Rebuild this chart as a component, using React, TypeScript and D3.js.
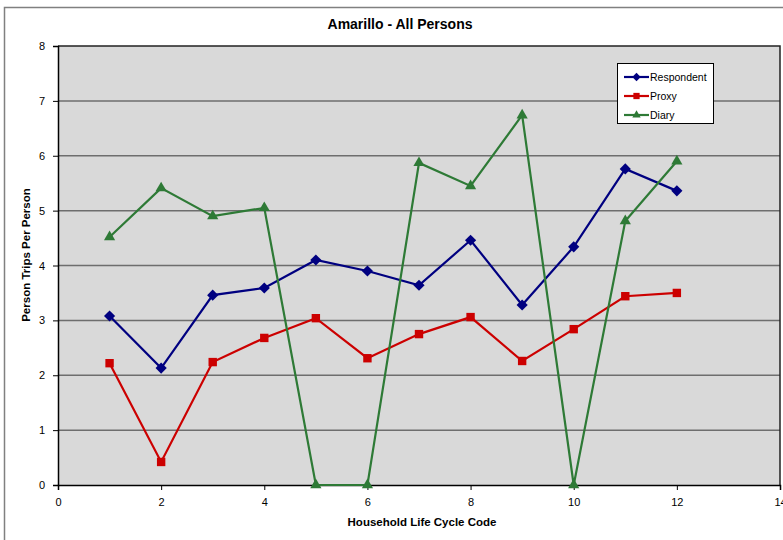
import React, { useEffect, useRef } from 'react'
import * as d3 from 'd3'

const codes = [1, 2, 3, 4, 5, 6, 7, 8, 9, 10, 11, 12]
const respondent = [3.08, 2.13, 3.46, 3.59, 4.1, 3.9, 3.64, 4.46, 3.28, 4.34, 5.76, 5.36]
const proxy = [2.22, 0.42, 2.24, 2.68, 3.04, 2.31, 2.75, 3.06, 2.26, 2.84, 3.44, 3.5]
const diary = [4.52, 5.41, 4.9, 5.05, 0, 0, 5.87, 5.45, 6.74, 0, 4.81, 5.9]
const xTicks = [0, 2, 4, 6, 8, 10, 12, 14]
const yTicks = [0, 1, 2, 3, 4, 5, 6, 7, 8]

const series = [
  { name: 'Respondent', values: respondent, color: '#000080', marker: 'diamond' },
  { name: 'Proxy', values: proxy, color: '#cc0000', marker: 'square' },
  { name: 'Diary', values: diary, color: '#2e7a36', marker: 'triangle' },
]

const W = 783
const H = 540

export default function App() {
  const svgRef = useRef<SVGSVGElement>(null)

  useEffect(() => {
    if (!svgRef.current) return
    const svg = d3.select(svgRef.current)
    svg.selectAll('*').remove()

    const font = 'Liberation Sans, Arial, sans-serif'
    const left = 58, right = 780, top = 46, bottom = 485

    // outer frame
    svg.append('rect')
      .attr('x', 4.5).attr('y', 7.5)
      .attr('width', W + 10).attr('height', H)
      .attr('fill', 'white')
      .attr('stroke', '#808080')
      .attr('stroke-width', 1.5)

    const x = d3.scaleLinear().domain([0, 14]).range([left, right])
    const y = d3.scaleLinear().domain([0, 8]).range([bottom, top])

    svg.append('rect')
      .attr('x', left).attr('y', top)
      .attr('width', right - left).attr('height', bottom - top)
      .attr('fill', '#d9d9d9')

    // gridlines
    svg.append('g')
      .selectAll('line')
      .data(yTicks.slice(1, -1))
      .enter()
      .append('line')
      .attr('x1', left).attr('x2', right)
      .attr('y1', d => y(d)).attr('y2', d => y(d))
      .attr('stroke', '#6e6e6e')
      .attr('stroke-width', 1.5)

    // plot border top/right
    svg.append('path')
      .attr('d', `M${left},${top}H${right}V${bottom}`)
      .attr('fill', 'none')
      .attr('stroke', '#222')
      .attr('stroke-width', 1.5)

    // y axis
    const yAxis = svg.append('g')
      .attr('transform', `translate(${left},0)`)
      .call(d3.axisLeft(y).tickValues(yTicks).tickSize(5).tickPadding(8).tickFormat(d3.format('d')))
    yAxis.select('.domain').attr('stroke', '#000').attr('stroke-width', 1.5)
    yAxis.selectAll('text').attr('font-family', font).attr('font-size', 11).attr('fill', '#000')

    // x axis
    const xAxis = svg.append('g')
      .attr('transform', `translate(0,${bottom})`)
      .call(d3.axisBottom(x).tickValues(xTicks).tickSize(5).tickPadding(8).tickFormat(d3.format('d')))
    xAxis.select('.domain').attr('stroke', '#000').attr('stroke-width', 1.5)
    xAxis.selectAll('text').attr('font-family', font).attr('font-size', 11).attr('fill', '#000')

    const line = d3.line<number>()
      .x((_, i) => x(codes[i]))
      .y(d => y(d))

    const markerPath = (m: string, size: number) => {
      if (m === 'diamond') return d3.symbol(d3.symbolDiamond2, size)()
      if (m === 'square') return d3.symbol(d3.symbolSquare2, size)()
      return d3.symbol(d3.symbolTriangle2, size)()
    }

    series.forEach(s => {
      svg.append('path')
        .datum(s.values)
        .attr('d', line)
        .attr('fill', 'none')
        .attr('stroke', s.color)
        .attr('stroke-width', 2.2)

      svg.append('g')
        .selectAll('path')
        .data(s.values)
        .enter()
        .append('path')
        .attr('transform', (d, i) => `translate(${x(codes[i])},${y(d)})`)
        .attr('d', markerPath(s.marker, s.marker === 'diamond' ? 80 : 90))
        .attr('fill', s.color)
    })

    // legend
    const lg = svg.append('g').attr('transform', 'translate(617,63)')
    lg.append('rect')
      .attr('x', 0.5).attr('y', 0.5)
      .attr('width', 96).attr('height', 60)
      .attr('fill', 'white')
      .attr('stroke', '#000')
    series.forEach((s, i) => {
      const yy = 14 + i * 19
      lg.append('line')
        .attr('x1', 7).attr('x2', 32)
        .attr('y1', yy).attr('y2', yy)
        .attr('stroke', s.color)
        .attr('stroke-width', 2.2)
      lg.append('path')
        .attr('transform', `translate(19.5,${yy})`)
        .attr('d', markerPath(s.marker, s.marker === 'diamond' ? 45 : 50))
        .attr('fill', s.color)
      lg.append('text')
        .attr('x', 33).attr('y', yy + 4)
        .attr('font-family', font)
        .attr('font-size', 10.5)
        .text(s.name)
    })

    // titles
    svg.append('text')
      .attr('x', 400).attr('y', 29)
      .attr('text-anchor', 'middle')
      .attr('font-family', font)
      .attr('font-size', 14)
      .attr('font-weight', 'bold')
      .text('Amarillo - All Persons')

    svg.append('text')
      .attr('x', 422).attr('y', 526)
      .attr('text-anchor', 'middle')
      .attr('font-family', font)
      .attr('font-size', 11.5)
      .attr('font-weight', 'bold')
      .text('Household Life Cycle Code')

    svg.append('text')
      .attr('transform', `translate(30,255) rotate(-90)`)
      .attr('text-anchor', 'middle')
      .attr('font-family', font)
      .attr('font-size', 11.5)
      .attr('font-weight', 'bold')
      .text('Person Trips Per Person')
  }, [])

  return (
    <svg
      ref={svgRef}
      width={W}
      height={H}
      style={{ position: 'absolute', left: 0, top: 0, background: 'white' }}
    />
  )
}
